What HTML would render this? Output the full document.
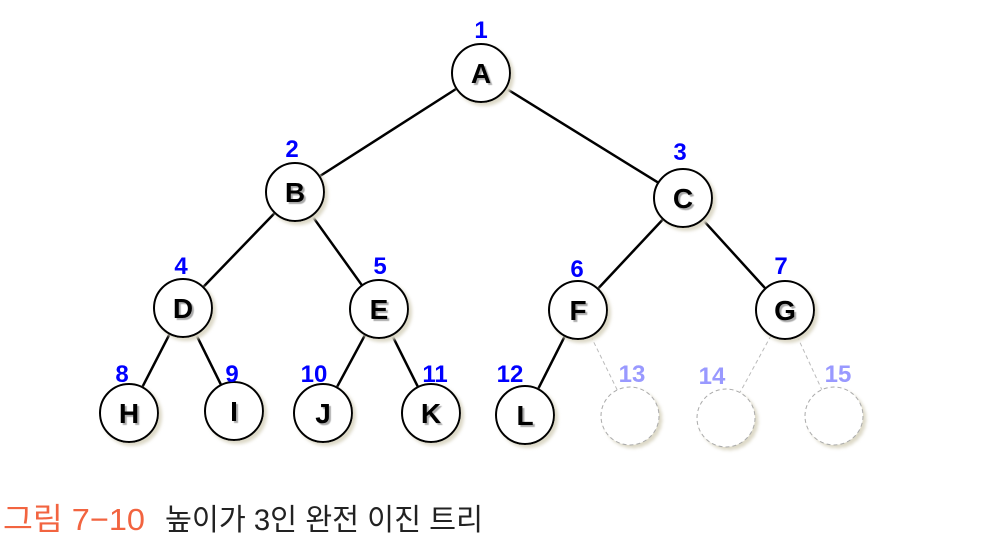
<!DOCTYPE html>
<html><head><meta charset="utf-8"><style>
body{margin:0;background:#fff;width:1005px;height:540px;overflow:hidden;font-family:"Liberation Sans","Noto Sans CJK KR",sans-serif}
</style></head><body>
<svg width="1005" height="540" viewBox="0 0 1005 540">
<defs><filter id="sh" x="-30%" y="-30%" width="160%" height="160%"><feDropShadow dx="3" dy="3" stdDeviation="1.5" flood-color="#ddd9c8"/></filter></defs>
<g id="edges"></g><g id="nodes"></g>
<text x="3" y="530" font-size="31" fill="#f26440" textLength="142" lengthAdjust="spacingAndGlyphs" font-family="'Liberation Sans','Noto Sans CJK KR',sans-serif">그림 7−10</text>
<text x="165" y="530" font-size="30" fill="#222" textLength="318" lengthAdjust="spacingAndGlyphs" font-family="'Liberation Sans','Noto Sans CJK KR',sans-serif">높이가 3인 완전 이진 트리</text>
</svg>
<script>
const names=['A','B','C','D','E','F','G','H','I','J','K','L','','',''];
const cx=[481,295,683,183,379,578,785,129,234,323,431,525,630,726,834];
const cy=[73,192,198,308,309,310,310,413,411,413,413,415,416,418,416];
const lx=[481,292,680,181,380,577,781,122,232,314,435,510,632,712,838];
const ly=[38,157,160,274,274,277,274,382,382,382,382,382,382,384,382];
const R=29,NS='http://www.w3.org/2000/svg';
const eg=document.getElementById('edges'),ng=document.getElementById('nodes');
function mk(t,a,p){const e=document.createElementNS(NS,t);for(const k in a)e.setAttribute(k,a[k]);p.appendChild(e);return e;}
for(let i=1;i<15;i++){const p=Math.floor((i+1)/2)-1;const dx=cx[i]-cx[p],dy=cy[i]-cy[p],d=Math.hypot(dx,dy);
const ghost=i>=12;
const l=mk('line',{x1:cx[p]+dx/d*R,y1:cy[p]+dy/d*R,x2:cx[i]-dx/d*R,y2:cy[i]-dy/d*R,stroke:ghost?'#bbb':'#000','stroke-width':ghost?1:2.5,'stroke-dasharray':ghost?'4 3':'none'},eg);

}
for(let i=0;i<15;i++){const ghost=i>=12;
const c=mk('circle',{cx:cx[i],cy:cy[i],r:R,fill:'#fff',stroke:ghost?'#aaa':'#000','stroke-width':ghost?1:2,'stroke-dasharray':ghost?'4 3':'none',filter:'url(#sh)'},ng);


if(names[i]){const t=mk('text',{x:cx[i],y:cy[i]+10,'text-anchor':'middle','font-size':28,'font-weight':'bold',fill:'#000',style:'text-shadow:2px 2px 1px #aaa'},ng);t.textContent=names[i];

}
const n=mk('text',{x:lx[i],y:ly[i],'text-anchor':'middle','font-size':24,'font-weight':'bold',fill:ghost?'#9999ff':'#0000ff'},ng);n.textContent=i+1;

}
</script>
</body></html>
